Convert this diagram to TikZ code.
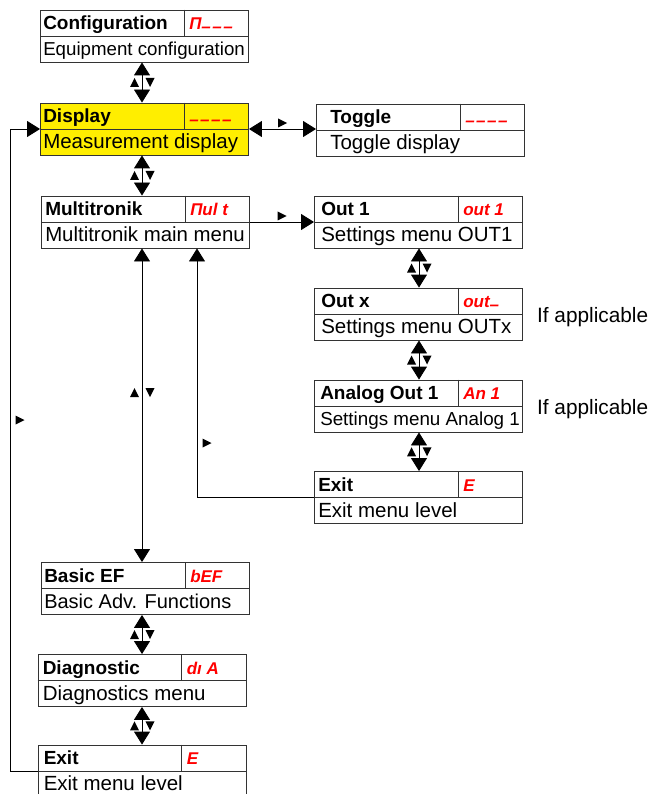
\documentclass[tikz,border=0pt]{standalone}
\usepackage{fontspec}
\setmainfont{Liberation Sans}
\usetikzlibrary{arrows.meta,calc}
\definecolor{segred}{RGB}{255,0,0}
\definecolor{dispyellow}{RGB}{255,238,0}
\newcommand\sbar{\raisebox{-.2em}{–}\kern1.5pt}

\begin{document}
\begin{tikzpicture}[x=1pt,y=-1pt,>={Triangle[width=16pt,length=13pt]},
  mbox/.style={draw=black!80,line width=0.9pt,minimum width=208pt,minimum height=52pt,inner sep=0pt},
  ttl/.style={anchor=base west,inner sep=0pt,font=\bfseries\fontsize{19}{22}\selectfont},
  code/.style={anchor=base west,inner sep=0pt,text=segred,font=\bfseries\itshape\fontsize{17}{20}\selectfont},
  dsc/.style={anchor=base west,inner sep=0pt},
  con/.style={line width=0.9pt},
  updn/.pic={\fill (-12,4.5) -- (-3,4.5) -- (-7.5,-4.5) -- cycle; \fill (3.5,-4.5) -- (12.5,-4.5) -- (8,4.5) -- cycle;},
  rtri/.pic={\fill (-4.5,-4.5) -- (4.5,0) -- (-4.5,4.5) -- cycle;}]
  \useasboundingbox (0,0) rectangle (652,794);

  % menu boxes
  \foreach \n/\x/\y/\i/\f/\t/\c/\d/\s in {
    conf/144.5/36/3/white/Configuration/Π\sbar\sbar\sbar/Equipment configuration/18.7,
    disp/144.5/129/3/dispyellow/Display/\sbar\sbar\sbar\sbar/Measurement display/20.5,
    togg/420.5/130/14/white/Toggle/\sbar\sbar\sbar\sbar/Toggle display/20.5,
    mult/145.5/222/4/white/Multitronik/Πul t/Multitronik main menu/20.4,
    out1/418.5/222/7/white/Out 1/out 1/Settings menu OUT1/20.5,
    outx/418.5/314/7/white/Out x/out\sbar/Settings menu OUTx/20.5,
    ana/418.5/406/6/white/Analog Out 1/An 1/Settings menu Analog 1/18.8,
    exr/418.5/497.5/4/white/Exit/E/Exit menu level/20.5,
    bef/145.5/588.5/3/white/Basic EF/bEF/Basic Adv. Functions/20,
    diag/142/680.5/5/white/Diagnostic/dı A/Diagnostics menu/20.5,
    exb/142/771/6/white/Exit/E/Exit menu level/20.5}{
    \node[mbox,fill=\f] (\n) at (\x,\y) {};
    \draw[line width=0.9pt,black!80] (\n.west) -- (\n.east);
    \draw[line width=0.9pt,black!80] ([xshift=144pt]\n.north west) -- ([xshift=144pt]\n.west);
    \node[ttl] (\n-t) at ([shift={(\i,20)}]\n.north west) {\t};
    \node[code] (\n-c) at ([shift={(149,20)}]\n.north west) {\c};
    \node[dsc,font=\fontsize{\s}{\s}\selectfont] (\n-d) at ([shift={(\i,46)}]\n.north west) {\d};
  }

  \node[dsc,font=\fontsize{20.8}{22}\selectfont] (ifa1) at ([shift={(14,8)}]outx.east) {If applicable};
  \node[dsc,font=\fontsize{20.8}{22}\selectfont] (ifa2) at ([shift={(14,8)}]ana.east) {If applicable};

  % connectors
  \coordinate (lc) at (142,0);
  \coordinate (rc) at (419,0);
  \coordinate (lp) at (197,0);
  \coordinate (ret) at (10,0);

  \foreach \a/\b in {conf/disp,disp/mult,bef/diag,diag/exb}{
    \draw[con,<->] (lc |- \a.south) -- coordinate (\a-m) (lc |- \b.north);
    \pic at (\a-m) {updn};
  }
  \draw[con,<->] (lc |- mult.south) -- coordinate[pos=.46] (mult-m) (lc |- bef.north);
  \pic at (mult-m) {updn};
  \foreach \a/\b in {out1/outx,outx/ana,ana/exr}{
    \draw[con,<->] (rc |- \a.south) -- coordinate (\a-m) (rc |- \b.north);
    \pic at (\a-m) {updn};
  }

  \draw[con,<->] (disp.east) -- coordinate (disp-r) (disp.east -| togg.west);
  \pic at ([yshift=6pt]disp-r) {rtri};
  \draw[con,->] (mult.east) -- coordinate (mult-r) (mult.east -| out1.west);
  \pic at ([yshift=6pt]mult-r) {rtri};
  \draw[con,->] (exr.west) -| (lp |- mult.south);
  \pic at (207,443) {rtri};
  \draw[con,->] (exb.west) -| (ret |- disp.west) -- (disp.west);
  \pic at (20,420) {rtri};
\end{tikzpicture}
\end{document}
